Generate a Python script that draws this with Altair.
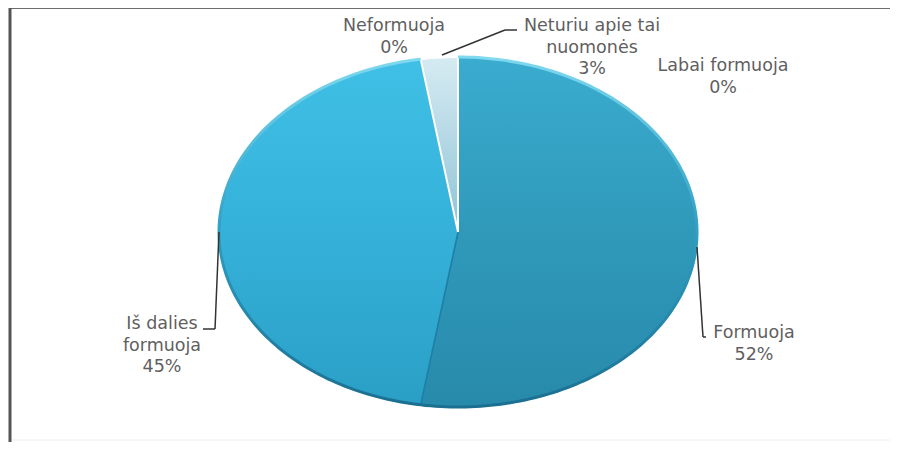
import math
import altair as alt
import pandas as pd

names = ["Labai formuoja", "Formuoja", "Iš dalies formuoja", "Neformuoja", "Neturiu apie tai nuomonės"]
shares = [0.0, 52.5, 45.0, 0.0, 2.5]      # drawn shares (labels round them)
shown = ["0%", "52%", "45%", "0%", "3%"]

W, H = 882, 434
XR = [211, 689]
YR = [399, 49]
xs = alt.Scale(domain=[-1, 1], range=XR)
ys = alt.Scale(domain=[-1, 1], range=YR)


def arc_rows(start, share):
    n = max(2, int(share * 3))
    rows = []
    for k in range(n + 1):
        a = 2 * math.pi * (start + share * k / n) / 100
        rows.append({"i": k + 1, "u": math.sin(a), "v": math.cos(a)})
    return rows


def wedge(start, share):
    rows = arc_rows(start, share)
    return pd.DataFrame([{"i": 0, "u": 0.0, "v": 0.0}] + rows + [{"i": len(rows) + 1, "u": 0.0, "v": 0.0}])


def grad(c0, c1, mid=None):
    stops = [alt.GradientStop(offset=0, color=c0)]
    if mid:
        stops.append(alt.GradientStop(offset=0.5, color=mid))
    stops.append(alt.GradientStop(offset=1, color=c1))
    return alt.LinearGradient(gradient="linear", x1=0, y1=0, x2=0, y2=1, stops=stops)


def enc(ch):
    return ch.encode(
        x=alt.X("u:Q", scale=xs, axis=None),
        y=alt.Y("v:Q", scale=ys, axis=None),
        order="i:Q",
    )


styles = {
    "Formuoja": (grad("#3aaccf", "#278aab", "#3099ba"), "#1f7fa6", 1.5),
    "Iš dalies formuoja": (grad("#40c0e6", "#2a9fc6", "#35b1d9"), "#1f7fa6", 1.5),
    "Neturiu apie tai nuomonės": (grad("#d6ebf2", "#8fc3d6"), "#ffffff", 2),
}
layers = []
rims = []
start = 0.0
for name, share in zip(names, shares):
    if share > 0:
        f, s, sw = styles[name]
        layers.append(enc(alt.Chart(wedge(start, share)).mark_line(fill=f, stroke=s, strokeWidth=sw, strokeJoin="round")))
        if name != "Neturiu apie tai nuomonės":
            rims.append(enc(alt.Chart(pd.DataFrame(arc_rows(start, share))).mark_line(
                stroke=grad("#7fd9ef", "#1b6f90", "#2f9fc4"), strokeWidth=3)))
    start += share
layers += rims

# frame
layers.append(alt.Chart().mark_rule(color="#6e6e6e", strokeWidth=2).encode(x=alt.value(2), x2=alt.value(W), y=alt.value(0)))
layers.append(alt.Chart().mark_rule(color="#555555", strokeWidth=3).encode(x=alt.value(2), y=alt.value(0), y2=alt.value(434)))
layers.append(alt.Chart().mark_rule(color="#eeeeee", strokeWidth=1).encode(x=alt.value(4), x2=alt.value(W), y=alt.value(432)))

# leaders
segs = [
    (689, 239, 695, 329), (695, 329, 698, 329),
    (211, 224, 207, 321), (207, 321, 195, 321),
    (434, 47, 497, 22), (497, 22, 509, 22),
]
for x1, y1, x2, y2 in segs:
    layers.append(alt.Chart().mark_rule(color="#333333", strokeWidth=1.5).encode(
        x=alt.value(x1), x2=alt.value(x2), y=alt.value(y1), y2=alt.value(y2)))

# labels
labels = [
    ("Formuoja\n52%", 746, 325),
    ("Labai formuoja\n0%", 715, 58),
    ("Neturiu apie tai\nnuomonės\n3%", 584, 18),
    ("Neformuoja\n0%", 386, 18),
    ("Iš dalies\nformuoja\n45%", 154, 316),
]
for t, x, y in labels:
    layers.append(alt.Chart().mark_text(
        font="DejaVu Sans", fontSize=17.5, color="#5f5f5f", lineBreak="\n", lineHeight=21.5,
        align="center", baseline="middle",
    ).encode(x=alt.value(x), y=alt.value(y), text=alt.value(t)))

chart = alt.layer(*layers).properties(
    width=W, height=H, padding=0, autosize=alt.AutoSizeParams(type="none"),
    background="#ffffff",
).configure_view(stroke=None)
chart.save("out.html", embed_options={"renderer": "svg", "actions": False})
